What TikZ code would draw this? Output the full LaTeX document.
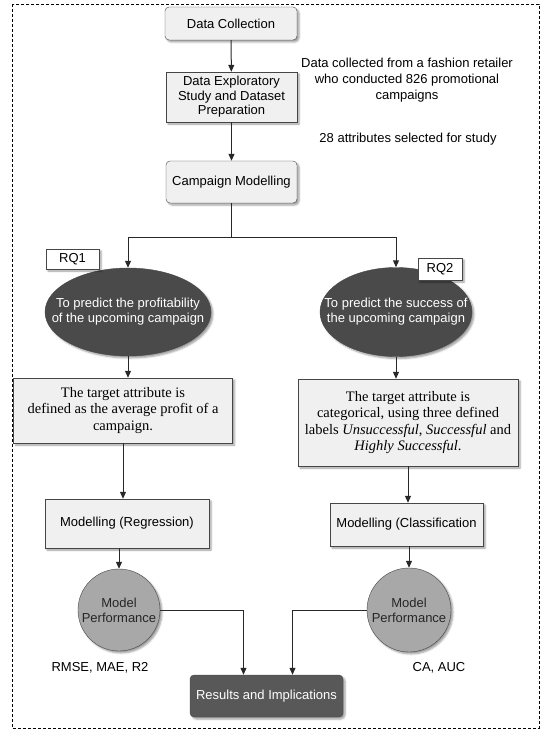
\documentclass[tikz,border=0pt]{standalone}
\usepackage{fontspec}
\setmainfont{Liberation Serif}
\setsansfont{Liberation Sans}
\usepackage{tikz}
\usetikzlibrary{shapes.geometric, arrows.meta, calc, shadows.blur}
\definecolor{BoxLine}{RGB}{70, 70, 70}
\definecolor{BoxFill}{RGB}{240, 240, 240}
\definecolor{GoalFill}{RGB}{74, 74, 74}
\definecolor{PerfFill}{RGB}{168, 168, 168}
\definecolor{ResFill}{RGB}{88, 88, 88}
\definecolor{LineGray}{RGB}{40, 40, 40}
\tikzset{
  rbox/.style={rectangle, rounded corners=4pt, draw=BoxLine, fill=BoxFill,
    font=\sffamily\fontsize{13}{14.5}\selectfont, align=center, inner sep=2pt,
    blur shadow={shadow xshift=2pt, shadow yshift=-2pt, shadow blur steps=4}},
  sbox/.style={rbox, sharp corners},
  tbox/.style={sbox, font=\rmfamily\fontsize{14.5}{16.5}\selectfont},
  tag/.style={sbox, fill=white},
  goal/.style={ellipse, draw=BoxLine, fill=GoalFill, inner sep=0pt,
    blur shadow={shadow xshift=2pt, shadow yshift=-2pt, shadow blur steps=4}},
  goaltext/.style={text=white, align=center,
    font=\sffamily\fontsize{13}{15}\selectfont},
  perf/.style={circle, draw=BoxLine, fill=PerfFill, inner sep=0pt,
    minimum size=82pt, align=center, text=black!85,
    font=\sffamily\fontsize{13}{15}\selectfont,
    blur shadow={shadow xshift=2pt, shadow yshift=-2pt, shadow blur steps=4}},
  res/.style={rbox, fill=ResFill, text=white},
  note/.style={align=center, font=\sffamily\fontsize{13}{16}\selectfont},
  arr/.style={-{Triangle[length=7pt, width=6pt]}, line width=1pt, color=LineGray},
  link/.style={line width=1pt, color=LineGray},
}

\begin{document}
\begin{tikzpicture}[x=1pt, y=-1pt]
  \useasboundingbox (0,0) rectangle (542,730);
  \draw[line width=0.7pt, dash pattern=on 3pt off 2pt] (12,4) rectangle (539,728);

  % top chain
  \node[rbox, minimum width=132pt, minimum height=33pt] (coll) at (231,23.5)
    {Data Collection};
  \node[sbox, minimum width=131pt, minimum height=50pt] (prep) at (231.5,97)
    {Data Exploratory\\Study and Dataset\\Preparation};
  \node[rbox, minimum width=131pt, minimum height=42pt] (model) at (231.5,182)
    {Campaign Modelling};
  \node[note] (src) at (407,80)
    {Data collected from a fashion retailer\\who conducted 826 promotional\\campaigns};
  \node[note] (attr) at (408,139) {28 attributes selected for study};

  % research questions
  \node[goal, minimum width=166pt, minimum height=88pt,
    label={[goaltext]center:{To predict the profitability\\of the upcoming campaign}}]
    (goal1) at (128,312) {};
  \node[goal, minimum width=152pt, minimum height=89pt,
    label={[goaltext]center:{To predict the success of\\the upcoming campaign}}]
    (goal2) at (396,312) {};
  \node[tag, minimum width=53pt, minimum height=20pt] (rq1) at (72.5,259) {RQ1};
  \node[tag, minimum width=44pt, minimum height=22pt] (rq2) at (440,269) {RQ2};

  % target attributes
  \node[tbox, minimum width=219pt, minimum height=65pt] (tgt1) at (123,410.5)
    {The target attribute is\\defined as the average profit of a\\campaign.};
  \node[tbox, minimum width=220pt, minimum height=87pt] (tgt2) at (408,422.5)
    {The target attribute is\\categorical, using three defined\\labels
     \textit{Unsuccessful}, \textit{Successful} and\\\textit{Highly Successful}.};

  % modelling
  \node[sbox, minimum width=164pt, minimum height=49pt] (reg) at (127,523.5)
    {Modelling (Regression)};
  \node[sbox, minimum width=153pt, minimum height=43pt] (cls) at (406.5,524.5)
    {Modelling (Classification};
  \node[perf] (perf1) at (119,610) {Model\\Performance};
  \node[perf, minimum size=84pt] (perf2) at (409,610) {Model\\Performance};
  \node[note] (met1) at (100,668) {RMSE, MAE, R2};
  \node[note] (met2) at (439,668) {CA, AUC};
  \node[res, minimum width=153pt, minimum height=42pt] (res) at (266.5,696)
    {Results and Implications};

  % connectors
  \draw[arr] (coll) -- (prep);
  \draw[arr] (prep) -- (model);
  \coordinate (split) at (231.5,237);
  \draw[link] (model.south) -- (split);
  \draw[arr] (split) -| (goal1.north);
  \draw[arr] (split) -| (goal2.north);
  \draw[arr] (goal1.south) -- (goal1.south |- tgt1.north);
  \draw[arr] (goal2.south) -- (goal2.south |- tgt2.north);
  \draw[arr] (tgt1.south) -- (tgt1.south |- reg.north);
  \draw[arr] (tgt2.south) -- (tgt2.south |- cls.north);
  \draw[arr] (reg.south -| perf1.north) -- (perf1.north);
  \draw[arr] (cls.south -| perf2.north) -- (perf2.north);
  \draw[arr] (perf1.east) -| ([xshift=-23pt]res.north);
  \draw[arr] (perf2.west) -| ([xshift=26pt]res.north);
\end{tikzpicture}
\end{document}
